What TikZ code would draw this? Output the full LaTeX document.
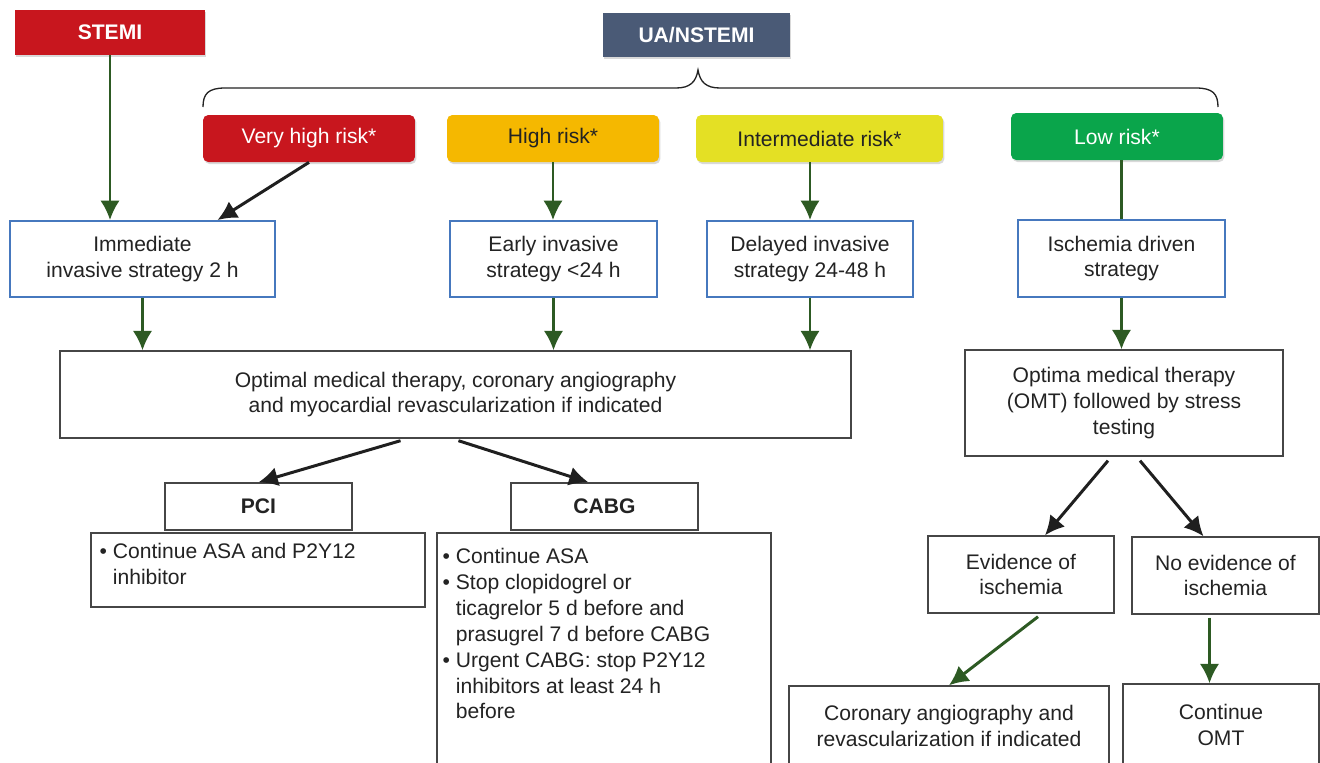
\documentclass[tikz,border=0pt]{standalone}
\usepackage{xcolor}
\usepackage{fontspec}
\setmainfont{Liberation Sans}
\usepackage{tikz}
\usetikzlibrary{calc}
\usetikzlibrary{arrows.meta}
\usetikzlibrary{shadows}
\definecolor{stemired}{RGB}{200,22,30}
\definecolor{slate}{RGB}{74,90,118}
\definecolor{highorange}{RGB}{245,184,0}
\definecolor{interyellow}{RGB}{228,224,36}
\definecolor{lowgreen}{RGB}{10,165,75}
\definecolor{stratblue}{RGB}{70,120,190}
\definecolor{arrowgreen}{RGB}{45,90,35}
\definecolor{boxgray}{RGB}{70,70,70}
\definecolor{textgray}{RGB}{35,35,35}
\newcommand{\boxfont}{\fontsize{12pt}{14.7pt}\selectfont}
\tikzset{>=latex}
\tikzstyle{hdr} = [draw=none, font=\boxfont\bfseries, text=white, drop shadow={opacity=0.3, shadow xshift=0.8pt, shadow yshift=-1.2pt}]
\tikzstyle{risk} = [draw=none, rounded corners=3pt, font=\boxfont, minimum height=0.94cm, drop shadow={opacity=0.3, shadow xshift=0.8pt, shadow yshift=-1.2pt}]
\tikzstyle{strat} = [draw=stratblue, line width=1.1pt, fill=white, align=center, font=\boxfont, text=textgray, minimum height=1.52cm]
\tikzstyle{plain} = [draw=boxgray, line width=0.8pt, fill=white, align=center, font=\boxfont, text=textgray]
\tikzstyle{listtext} = [draw=none, inner sep=0, align=left, font=\boxfont, text=textgray]
\tikzstyle{garrow} = [-{Latex[length=11pt,width=11pt]}, line width=1.7pt, draw=arrowgreen, fill=arrowgreen]
\tikzstyle{gline} = [-, line width=1.7pt, draw=arrowgreen]
\tikzstyle{karrow} = [-{Latex[length=11pt,width=11pt]}, line width=1.7pt, draw=black!88, fill=black!88]

\begin{document}
\begin{tikzpicture}[x=0.02cm, y=-0.02cm]
\useasboundingbox (0,0) rectangle (1320,762);
\clip (0,0) rectangle (1320,762);

\node [hdr, fill=stemired, minimum width=3.8cm, minimum height=0.9cm] (stemi) at (110,32.5) {STEMI};
\node [hdr, fill=slate, minimum width=3.74cm, minimum height=0.88cm] (uanstemi) at (696.5,35) {UA/NSTEMI};

\draw [line width=0.75pt, textgray] (203,107) .. controls (203,94) and (208,88) .. (225,88) -- (676,88) .. controls (690,88) and (696,82) .. (698,70) .. controls (700,82) and (706,88) .. (720,88) -- (1196,88) .. controls (1213,88) and (1218,94) .. (1218,107);

\node [risk, fill=stemired, text=white, minimum width=4.24cm] (vhigh) at (309,138.5) {Very high risk*};
\node [risk, fill=highorange, text=textgray, minimum width=4.24cm] (high) at (553,138.5) {High risk*};
\node [risk, fill=interyellow, text=textgray, minimum width=4.94cm] (inter) at (819.5,138.5) {Intermediate risk*};
\node [risk, fill=lowgreen, text=white, minimum width=4.24cm] (low) at (1117,136.5) {Low risk*};

\node [strat, minimum width=5.3cm] (immed) at (142.5,259) {Immediate\\invasive strategy 2 h};
\node [strat, minimum width=4.14cm] (early) at (553.5,259) {Early invasive\\strategy <24 h};
\node [strat, minimum width=4.12cm] (delayed) at (810,259) {Delayed invasive\\strategy 24-48 h};
\node [strat, minimum width=4.14cm, minimum height=1.54cm] (ischem) at (1121.5,258.5) {Ischemia driven\\strategy};

\node [plain, minimum width=15.82cm, minimum height=1.74cm] (omt) at (455.5,394.5) {Optimal medical therapy, coronary angiography\\and myocardial revascularization if indicated};
\node [plain, minimum width=6.36cm, minimum height=2.12cm] (optima) at (1124,403) {Optima medical therapy\\(OMT) followed by stress\\testing};

\node [plain, font=\boxfont\bfseries, minimum width=3.74cm, minimum height=0.94cm] (pci) at (258.5,506.5) {PCI};
\node [plain, font=\boxfont\bfseries, minimum width=3.74cm, minimum height=0.94cm] (cabg) at (604.5,506.5) {CABG};

\node [plain, minimum width=6.68cm, minimum height=1.48cm] (pcilist) at (258,570) {};
\node [listtext, anchor=north west] (pcitext) at ($(pcilist.north west)+(9,11)$) {\textbullet\ Continue ASA and P2Y12\\\hphantom{\textbullet\ }inhibitor};
\node [plain, minimum width=6.68cm, minimum height=4.74cm] (cabglist) at (604,651.5) {};
\node [listtext, anchor=north west] (cabgtext) at ($(cabglist.north west)+(6,16)$) {\textbullet\ Continue ASA\\\textbullet\ Stop clopidogrel or\\\hphantom{\textbullet\ }ticagrelor 5 d before and\\\hphantom{\textbullet\ }prasugrel 7 d before CABG\\\textbullet\ Urgent CABG: stop P2Y12\\\hphantom{\textbullet\ }inhibitors at least 24 h\\\hphantom{\textbullet\ }before};

\node [plain, minimum width=3.72cm, minimum height=1.54cm] (evid) at (1021,574.5) {Evidence of\\ischemia};
\node [plain, minimum width=3.74cm, minimum height=1.54cm] (noevid) at (1225.5,575.5) {No evidence of\\ischemia};
\node [plain, minimum width=6.4cm, minimum height=1.6cm] (coron) at (949,726) {Coronary angiography and\\revascularization if indicated};
\node [plain, minimum width=3.92cm, minimum height=1.64cm] (contomt) at (1221,725) {Continue\\OMT};

\coordinate (noevidout) at ($(noevid.south)+(-16,3)$);

\draw [garrow] (stemi.south) -- (stemi.south |- immed.north);
\draw [karrow] (vhigh.south) -- ($(immed.north)+(75,0)$);
\draw [garrow] (high.south) -- (high.south |- early.north);
\draw [garrow] (delayed.north |- inter.south) -- (delayed.north);
\draw [gline] (ischem.north |- low.south) -- (ischem.north);
\draw [garrow] (immed.south) -- (immed.south |- omt.north);
\draw [garrow] (early.south) -- (early.south |- omt.north);
\draw [garrow] (delayed.south) -- (delayed.south |- omt.north);
\draw [garrow] (ischem.south) -- (ischem.south |- optima.north);
\draw [karrow] ($(omt.south)+(-55,2)$) -- (pci.north);
\draw [karrow] ($(omt.south)+(3,2)$) -- ($(cabg.north)+(-16,0)$);
\draw [karrow] ($(optima.south)+(-16,4)$) -- ($(evid.north)+(24,0)$);
\draw [karrow] ($(optima.south)+(16,4)$) -- ($(noevid.north)+(-22,0)$);
\draw [garrow] ($(evid.south)+(17,3)$) -- (coron.north);
\draw [garrow] (noevidout) -- (noevidout |- contomt.north);
\end{tikzpicture}
\end{document}
